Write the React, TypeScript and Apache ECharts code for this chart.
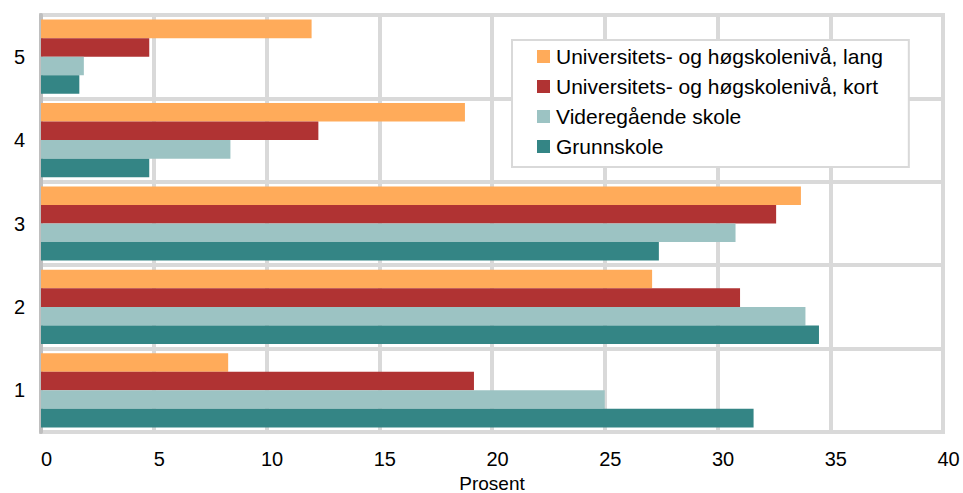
import React, { useEffect, useRef } from "react";
import * as echarts from "echarts";

const categories = ["1", "2", "3", "4", "5"];
const xTicks = [0, 5, 10, 15, 20, 25, 30, 35, 40];
const uniLang = [8.3, 27.1, 33.7, 18.8, 12.0];
const uniKort = [19.2, 31.0, 32.6, 12.3, 4.8];
const videregaende = [25.0, 33.9, 30.8, 8.4, 1.9];
const grunnskole = [31.6, 34.5, 27.4, 4.8, 1.7];
const seriesNames = [
  "Universitets- og høgskolenivå, lang",
  "Universitets- og høgskolenivå, kort",
  "Videregående skole",
  "Grunnskole",
];

export default function App() {
  const ref = useRef<HTMLDivElement>(null);
  useEffect(() => {
    if (!ref.current) return;
    const chart = echarts.init(ref.current, undefined, { renderer: "svg" });
    const font = "'Liberation Sans', Arial, sans-serif";
    const colors = ["#ffab5a", "#b03333", "#9cc3c3", "#348585"];
    const data = [uniLang, uniKort, videregaende, grunnskole];
    chart.setOption({
      animation: false,
      textStyle: { fontFamily: font },
      grid: {
        left: 41,
        right: 20,
        top: 15,
        bottom: 61,
        outerBoundsMode: "none",
        containLabel: false,
        show: true,
        borderColor: "#d9d9d9",
        borderWidth: 4,
        backgroundColor: "#ffffff",
      },
      legend: {
        data: seriesNames,
        orient: "vertical",
        left: 512,
        top: 40,
        padding: [6, 26, 10, 25],
        itemGap: 9,
        itemWidth: 13,
        itemHeight: 13,
        icon: "rect",
        backgroundColor: "#ffffff",
        borderColor: "#d9d9d9",
        borderWidth: 2,
        borderRadius: 0,
        z: 10,
        textStyle: {
          fontFamily: font,
          fontSize: 21,
          color: "#000000",
          lineHeight: 20,
          padding: [0, 0, 0, 1],
        },
      },
      xAxis: {
        type: "value",
        min: xTicks[0],
        max: xTicks[xTicks.length - 1],
        interval: 5,
        name: "Prosent",
        nameLocation: "middle",
        nameGap: 44,
        nameTextStyle: { fontFamily: font, fontSize: 19, lineHeight: 15, color: "#000" },
        axisLine: { show: false },
        axisTick: { show: false },
        axisLabel: { fontFamily: font, fontSize: 20, color: "#000", margin: 17, padding: [0, 0, 0, 11] },
        splitLine: { show: true, lineStyle: { color: "#d9d9d9", width: 4 } },
      },
      yAxis: {
        type: "category",
        data: categories,
        axisLine: { show: true, lineStyle: { color: "#bfbfbf", width: 4 } },
        axisTick: { show: false },
        axisLabel: { fontFamily: font, fontSize: 20, color: "#000", margin: 16 },
        splitLine: { show: true, lineStyle: { color: "#d9d9d9", width: 4 } },
      },
      series: seriesNames.map((name, i) => ({
        name,
        type: "bar",
        data: data[i],
        barGap: "0%",
        barCategoryGap: "11%",
        itemStyle: { color: colors[i] },
      })),
    });
    return () => chart.dispose();
  }, []);
  return <div ref={ref} style={{ width: 963, height: 493, position: "absolute", left: 0, top: 0 }} />;
}
